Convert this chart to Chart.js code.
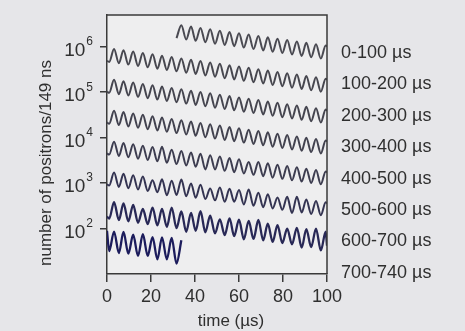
<!DOCTYPE html>
<html>
<head>
<meta charset="utf-8">
<script src="https://cdn.jsdelivr.net/npm/chart.js@4.4.1/dist/chart.umd.min.js"></script>
<style>
  body { margin: 0; background: #e6e6e9; }
  #wrap { width: 465px; height: 331px; }
</style>
</head>
<body>
<div id="wrap"><canvas id="myChart" width="465" height="331"></canvas></div>
<script>
// times of the wiggle peaks/troughs (µs), shared by every 100 µs segment
const times = [0, 1.0, 3.2, 5.4, 7.5, 9.7, 11.9, 14.1, 16.3, 18.5, 20.7, 22.9, 25.0, 27.2, 29.4, 31.6,
  33.8, 36.0, 38.2, 40.3, 42.5, 44.7, 46.9, 49.1, 51.3, 53.5, 55.7, 57.8, 60.0, 62.2, 64.4, 66.6,
  68.8, 71.0, 73.1, 75.3, 77.5, 79.7, 81.9, 84.1, 86.3, 88.5, 90.6, 92.8, 95.0, 97.2, 99.4, 100];

const segmentLabels = ['0-100 µs', '100-200 µs', '200-300 µs', '300-400 µs',
  '400-500 µs', '500-600 µs', '600-700 µs', '700-740 µs'];

// number of positrons per 149 ns bin
const seg0to100 = [null, null, null, null, null, null, null, null, null, null, null, null, null, null, null,
  1.55e6, 2.98e6, 1.44e6, 2.78e6, 1.35e6, 2.60e6, 1.26e6, 2.43e6, 1.17e6, 2.26e6, 1.10e6, 2.11e6,
  1.03e6, 1.98e6, 9.6e5, 1.85e6, 8.9e5, 1.72e6, 8.3e5, 1.61e6, 7.8e5, 1.50e6, 7.3e5, 1.40e6, 6.8e5,
  1.31e6, 6.3e5, 1.22e6, 5.9e5, 1.14e6, 5.5e5, 1.07e6, 1.01e6];
const seg100to200 = [4.9e5, 4.65e5, 8.95e5, 4.34e5, 8.37e5, 4.06e5, 7.82e5, 3.78e5, 7.29e5, 3.53e5,
  6.81e5, 3.30e5, 6.37e5, 3.08e5, 5.94e5, 2.88e5, 5.55e5, 2.69e5, 5.18e5, 2.51e5, 4.84e5, 2.34e5,
  4.52e5, 2.19e5, 4.22e5, 2.04e5, 3.94e5, 1.91e5, 3.68e5, 1.78e5, 3.44e5, 1.66e5, 3.21e5, 1.55e5,
  3.00e5, 1.45e5, 2.80e5, 1.36e5, 2.61e5, 1.26e5, 2.44e5, 1.18e5, 2.28e5, 1.10e5, 2.13e5, 1.03e5,
  1.99e5, 1.88e5];
const seg200to300 = [1.03e5, 9.7e4, 1.87e5, 9.06e4, 1.75e5, 8.47e4, 1.63e5, 7.91e4, 1.52e5, 7.38e4,
  1.42e5, 6.89e4, 1.33e5, 6.44e4, 1.24e5, 6.01e4, 1.16e5, 5.61e4, 1.08e5, 5.25e4, 1.01e5, 4.90e4,
  9.44e4, 4.57e4, 8.81e4, 4.27e4, 8.22e4, 3.99e4, 7.69e4, 3.72e4, 7.18e4, 3.48e4, 6.70e4, 3.24e4,
  6.27e4, 3.03e4, 5.85e4, 2.83e4, 5.46e4, 2.64e4, 5.09e4, 2.47e4, 4.76e4, 2.31e4, 4.45e4, 2.15e4,
  4.15e4, 3.93e4];
const seg300to400 = [2.16e4, 2.03e4, 3.91e4, 1.89e4, 3.66e4, 1.77e4, 3.41e4, 1.65e4, 3.18e4, 1.54e4,
  2.97e4, 1.44e4, 2.78e4, 1.35e4, 2.59e4, 1.26e4, 2.42e4, 1.17e4, 2.26e4, 1.10e4, 2.11e4, 1.02e4,
  1.97e4, 9.55e3, 1.84e4, 8.91e3, 1.72e4, 8.34e3, 1.61e4, 7.78e3, 1.50e4, 7.26e3, 1.40e4, 6.78e3,
  1.31e4, 6.34e3, 1.22e4, 5.92e3, 1.14e4, 5.52e3, 1.06e4, 5.15e3, 9.95e3, 4.82e3, 9.29e3, 4.50e3,
  8.67e3, 8.20e3];
const seg400to500 = [4.51e3, 4.24e3, 8.17e3, 3.95e3, 7.64e3, 3.70e3, 7.13e3, 3.45e3, 6.65e3, 3.22e3,
  6.21e3, 3.01e3, 6.3e3, 2.81e3, 5.42e3, 2.62e3, 5.06e3, 2.45e3, 4.72e3, 2.29e3, 4.42e3, 2.0e3,
  4.12e3, 2.00e3, 3.85e3, 1.86e3, 3.59e3, 1.74e3, 3.36e3, 1.63e3, 2.9e3, 1.52e3, 2.92e3, 1.42e3,
  2.74e3, 1.32e3, 2.55e3, 1.24e3, 2.38e3, 1.15e3, 2.22e3, 1.08e3, 2.08e3, 1.01e3, 1.94e3, 940,
  1.81e3, 1.71e3];
const seg500to600 = [942, 885, 1710, 826, 1600, 773, 1490, 721, 1390, 673, 1150, 628, 1210, 540, 1130,
  548, 1200, 512, 986, 479, 923, 447, 760, 417, 804, 389, 750, 390, 701, 340, 720, 317, 611, 296, 571,
  277, 480, 258, 498, 220, 500, 225, 435, 210, 406, 196, 378, 358];
const seg600to700 = [184, 165, 382, 154, 357, 144, 333, 134, 270, 125, 290, 117, 272, 109, 290, 102,
  237, 85, 221, 89, 240, 83, 193, 78, 160, 72, 168, 68, 157, 58, 147, 59, 155, 55, 128, 51, 119, 48,
  100, 45, 104, 38, 97, 39, 100, 33, 85, 42];
const seg700to740 = [89, 32, 86, 29, 84, 28, 73, 25, 75, 25, 65, 21, 64, 21, 62, 17, 55];

const segments = [seg0to100, seg100to200, seg200to300, seg300to400,
  seg400to500, seg500to600, seg600to700, seg700to740];

const yTickValues = [1e2, 1e3, 1e4, 1e5, 1e6];
const yTickExponents = ['2', '3', '4', '5', '6'];

const lineColors = ['#4a4a52', '#47474f', '#45454f', '#42424f', '#3d3d50', '#343452', '#282856', '#1c1c5c'];

const FONT = '"Liberation Sans", Arial, sans-serif';
const TEXT = '#2f2f2f';

const datasets = segments.map((vals, i) => ({
  label: segmentLabels[i],
  data: vals.map((v, k) => ({ x: times[k], y: v })).filter((p) => p.y !== null),
  borderColor: lineColors[i],
  borderWidth: i >= 6 ? 2.3 : 2,
  pointRadius: 0,
  cubicInterpolationMode: 'monotone',
  fill: false
}));

const decorations = {
  id: 'decorations',
  beforeDraw(chart) {
    const { ctx, chartArea: a } = chart;
    ctx.save();
    ctx.fillStyle = '#eeeeef';
    ctx.fillRect(a.left, a.top, a.right - a.left, a.bottom - a.top);
    ctx.restore();
  },
  afterDraw(chart) {
    const { ctx, chartArea: a } = chart;
    const yScale = chart.scales.y;
    ctx.save();
    // top and right edges of the frame
    ctx.strokeStyle = '#3a3a3a';
    ctx.lineWidth = 1.5;
    ctx.beginPath();
    ctx.moveTo(a.left, a.top);
    ctx.lineTo(a.right, a.top);
    ctx.lineTo(a.right, a.bottom);
    ctx.stroke();

    ctx.fillStyle = TEXT;
    ctx.textBaseline = 'middle';

    // 10^n tick labels
    yTickValues.forEach((v, i) => {
      const py = yScale.getPixelForValue(v);
      const right = a.left - 14;
      ctx.font = '12px ' + FONT;
      const ew = ctx.measureText(yTickExponents[i]).width;
      ctx.textAlign = 'left';
      ctx.fillText(yTickExponents[i], right - ew, py - 5);
      ctx.font = '19px ' + FONT;
      ctx.textAlign = 'right';
      ctx.fillText('10', right - ew - 1, py + 4);
    });

    // segment labels on the right
    ctx.font = '18px ' + FONT;
    ctx.textAlign = 'left';
    segmentLabels.forEach((txt, i) => {
      ctx.fillText(txt, a.right + 14, a.top + 38 + i * 31.4);
    });

    // axis titles
    ctx.font = '17px ' + FONT;
    ctx.textAlign = 'center';
    ctx.fillText('time (µs)', 231, 321);
    ctx.translate(46, 163);
    ctx.rotate(-Math.PI / 2);
    ctx.fillText('number of positrons/149 ns', 0, 0);
    ctx.restore();
  }
};

new Chart(document.getElementById('myChart'), {
  type: 'line',
  data: { datasets },
  options: {
    responsive: false,
    animation: false,
    layout: { padding: { top: 15, right: 138, left: 0, bottom: 0 } },
    plugins: { legend: { display: false }, tooltip: { enabled: false } },
    scales: {
      x: {
        type: 'linear',
        min: 0,
        max: 100,
        afterFit: (s) => { s.height = 57; },
        ticks: { stepSize: 20, color: TEXT, font: { family: FONT, size: 18 }, padding: 4, maxRotation: 0 },
        grid: { drawOnChartArea: false, tickLength: 8, color: '#3a3a3a', lineWidth: 1.5 },
        border: { color: '#3a3a3a', width: 1.5 }
      },
      y: {
        type: 'logarithmic',
        min: 10,
        max: 5e6,
        afterFit: (s) => { s.width = 107; },
        afterBuildTicks: (s) => { s.ticks = yTickValues.map((v) => ({ value: v })); },
        ticks: { display: false },
        grid: { drawOnChartArea: false, tickLength: 7, color: '#3a3a3a', lineWidth: 1.5 },
        border: { color: '#3a3a3a', width: 1.5 }
      }
    }
  },
  plugins: [decorations]
});
</script>
</body>
</html>
